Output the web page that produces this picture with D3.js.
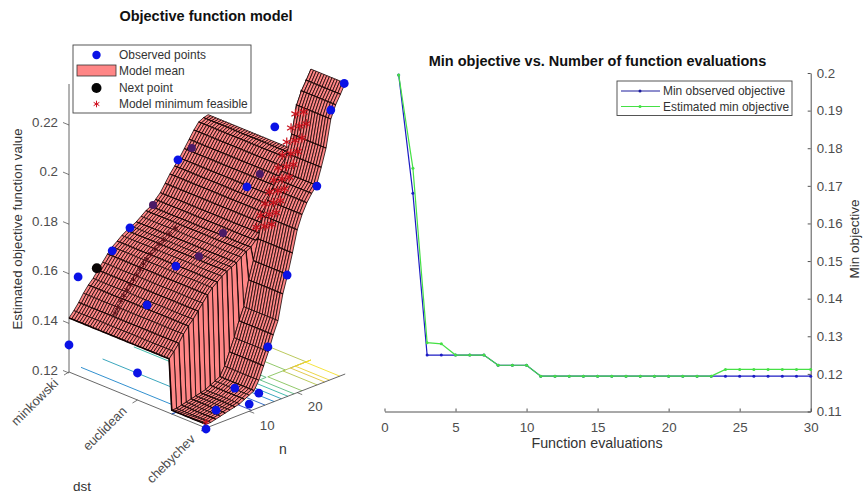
<!DOCTYPE html>
<html>
<head>
<meta charset="utf-8">
<script src="https://cdnjs.cloudflare.com/ajax/libs/d3/7.8.5/d3.min.js"></script>
<style>
  html, body { margin: 0; background: #fff; }
  text { font-family: "Liberation Sans", Arial, sans-serif; }
</style>
</head>
<body>
<div id="chart"></div>
<script>
// left panel: model surface, one height per n on each side of the dst step
const nGrid = d3.range(1, 31);
const dstNames = ['minkowski', 'euclidean', 'chebychev'];
const surfaceLeft = [.1422,.1444,.1469,.1499,.1524,.1544,.1569,.1594,.1619,.1641,.1656,.1672,.1684,.1694,.1704,.1719,.1734,.1744,.1764,.1784,.1814,.1844,.1869,.1894,.1924,.1954,.1984,.2009,.2019,.2024];
const surfaceRight = [.1219,.1219,.1224,.1229,.1234,.1239,.1244,.1249,.1259,.1269,.1279,.1314,.1364,.1414,.1474,.1524,.1624,.1694,.1774,.1860,.1914,.1954,.1984,.2009,.2074,.2144,.2254,.2304,.2339,.2377];
const dstStep = 2.5;
const contourLevels = [.1274,.1379,.1484,.1594,.1699,.1804,.1914,.2019,.2124,.2224,.2334];
const parula = ['#2b3fb5', '#1b83c9', '#2fb3a2', '#86c35a', '#e0c33a', '#f4e02a'];

const obsN = [29.8,27,29.6,23.7,23.8,24.1,13.7,10,2.9,9,3,17.9,1,1,13.9,7,12,10,3.1,1];
const obsDst = [3,3,2,1,2,3,1,1,1,2,2,3,1,2,3,3,3,3,3,3];
const obsZ = [.2377,.2291,.2091,.1889,.1892,.2006,.1690,.1625,.1573,.1684,.1572,.1694,.1313,.1313,.1434,.1320,.1262,.1233,.1260,.1200];
const hiddenN = [26.6,26.5,18.5,18.8,13.8];
const hiddenDst = [1,2,1,2,2];
const hiddenZ = [.1915,.1924,.1746,.1744,.1688];
const nextPoint = [6.8, 1, .1579];
const frontStar = [1, 3, .1228];
const ridgeStarN = [19.8,20.1,20.4,20.7,21,21.3,21.6,21.9,22.2,22.5,22.8,23.1,23.4,23.7,24,24.3,24.6,24.9,25.2,25.5,25.8,26.1,26.4,26.7,27,27.3,27.6,27.9,28.2];
const ridgeStarDst = [2.42,2.52,2.6,2.42,2.52,2.6,2.42,2.52,2.6,2.42,2.52,2.6,2.42,2.52,2.6,2.42,2.52,2.6,2.42,2.52,2.6,2.42,2.52,2.6,2.42,2.52,2.6,2.42,2.52];
const ridgeStarZ = [.1806,.182,.1834,.1848,.1861,.1875,.1888,.1902,.1916,.1929,.1943,.1957,.197,.1984,.1998,.2012,.2027,.2042,.2057,.2072,.2087,.2103,.2119,.2136,.2153,.217,.2186,.2203,.222];
const darkStarN = [3.45,4,4.7,5.3,5.95,6.6,7.3,8,8.7,9.4,10.1,10.9,11.8,12.6,13.5,14.7,16];
const darkStarZ = [.148,.1498,.152,.1537,.1554,.157,.1585,.16,.1617,.1633,.1648,.1662,.1675,.1688,.1699,.1714,.1728];

const zTicks = [.12,.14,.16,.18,.2,.22];
const nTicks = [10, 20];

// right panel
const evals = d3.range(1, 31);
const minObserved = [.1995,.168,.125,.125,.125,.125,.125,.1223,.1223,.1223,.1194,.1194,.1194,.1194,.1194,.1194,.1194,.1194,.1194,.1194,.1194,.1194,.1194,.1194,.1194,.1194,.1194,.1194,.1194,.1194];
const estimatedMin = [.1995,.1747,.1283,.128,.125,.125,.125,.1223,.1223,.1223,.1194,.1194,.1194,.1194,.1194,.1194,.1194,.1194,.1194,.1194,.1194,.1194,.1194,.1212,.1212,.1212,.1212,.1212,.1212,.1212];

const svg = d3.select('#chart').append('svg').attr('width', 863).attr('height', 494).style('display', 'block');
const axisGrey = '#404040', textGrey = '#4d4d4d';

// === left panel projection ===
const nX = d3.scaleLinear().domain([1, 30]).range([69, 208.2]);
const nY = d3.scaleLinear().domain([1, 30]).range([0, -54]);
const dX = d3.scaleLinear().domain([1, 3]).range([0, 137]);
const dY = d3.scaleLinear().domain([1, 3]).range([0, 56]);
const zY = d3.scaleLinear().domain([.12, .22]).range([373, 125]);
const floorZ = .1204;
const project = (n, dst, z) => [nX(n) + dX(dst), zY(z) + nY(n) + dY(dst)];

const left = svg.append('g');
const line = d3.line();

// floor contours
const crossing = (series, level) => {
    const i = series.findIndex(v => v >= level);
    if (i < 1) return i === 0 ? 1 : null;
    return nGrid[i - 1] + (level - series[i - 1]) / (series[i] - series[i - 1]);
};
const contourColor = d3.scaleLinear()
    .domain(d3.range(parula.length).map(i => d3.quantile(contourLevels, i / (parula.length - 1))))
    .range(parula);
contourLevels.forEach(level => {
    const nL = crossing(surfaceLeft, level);
    const nR = crossing(surfaceRight, level);
    const pts = [];
    if (nL !== null && level >= surfaceLeft[0]) pts.push([nL, 1], [nL, dstStep]);
    else pts.push([nL === null ? 30 : 1, dstStep]);
    pts.push([nR === null ? 30 : nR, dstStep]);
    if (nR !== null) pts.push([nR, 3]);
    left.append('path')
        .attr('d', line(pts.map(p => project(p[0], p[1], floorZ))))
        .attr('fill', 'none')
        .attr('stroke', contourColor(level))
        .attr('stroke-width', 0.9);
});

// floor edges and ticks
const floorEdge = [[1, 1], [1, 3], [30, 3]];
left.append('path')
    .attr('d', line(floorEdge.map(p => project(p[0], p[1], floorZ))))
    .attr('fill', 'none').attr('stroke', axisGrey).attr('stroke-width', 0.8);
left.append('line')
    .attr('x1', nX(1)).attr('x2', nX(1))
    .attr('y1', zY(floorZ)).attr('y2', 84)
    .attr('stroke', axisGrey).attr('stroke-width', 0.8);

zTicks.forEach(t => {
    const y = zY(t);
    left.append('line').attr('x1', 69).attr('y1', y).attr('x2', 63).attr('y2', y - 2.5)
        .attr('stroke', axisGrey).attr('stroke-width', 0.7);
    left.append('text').attr('x', 58).attr('y', y - 3).attr('dy', '0.35em')
        .attr('text-anchor', 'end').attr('font-size', 13.3).attr('fill', textGrey)
        .text(t === .2 ? '0.2' : t.toFixed(2));
});
nTicks.forEach(t => {
    const [x, y] = project(t, 3, floorZ);
    left.append('line').attr('x1', x).attr('y1', y).attr('x2', x + 5).attr('y2', y + 2)
        .attr('stroke', axisGrey).attr('stroke-width', 0.7);
    left.append('text').attr('x', x + 18).attr('y', y + 14).attr('dy', '0.35em')
        .attr('text-anchor', 'middle').attr('font-size', 13.3).attr('fill', textGrey).text(t);
});
dstNames.forEach((name, i) => {
    const [x, y] = project(1, i + 1, floorZ);
    left.append('line').attr('x1', x).attr('y1', y).attr('x2', x - 5).attr('y2', y + 3)
        .attr('stroke', axisGrey).attr('stroke-width', 0.7);
    left.append('text')
        .attr('transform', `translate(${x - 10},${y + 12}) rotate(-45)`)
        .attr('text-anchor', 'end').attr('font-size', 13).attr('fill', textGrey).text(name);
});

// surface, far rows first so nearer cells cover them
const stations = d3.range(0, 53).map(i => 1 + i * 2 / 52);
const heightAt = (rowIdx, dst) => dst < dstStep ? surfaceLeft[rowIdx] : surfaceRight[rowIdx];
const surface = left.append('g');
for (let r = nGrid.length - 2; r >= 0; r--) {
    for (let s = 0; s < stations.length - 1; s++) {
        const d0 = stations[s], d1 = stations[s + 1];
        const quad = [
            project(nGrid[r], d0, heightAt(r, d0)),
            project(nGrid[r + 1], d0, heightAt(r + 1, d0)),
            project(nGrid[r + 1], d1, heightAt(r + 1, d1)),
            project(nGrid[r], d1, heightAt(r, d1))
        ];
        surface.append('path')
            .attr('d', line(quad) + 'Z')
            .attr('fill', '#ff8686')
            .attr('stroke', '#140404')
            .attr('stroke-width', 0.8);
    }
    // heavier step lines: every second row low down, every row higher up
    if (nGrid[r] > 16 || r % 2 === 0) {
        surface.append('path')
            .attr('d', line(stations.map(d => project(nGrid[r], d, heightAt(r, d)))))
            .attr('fill', 'none')
            .attr('stroke', '#140303')
            .attr('stroke-width', 1.6);
    }
}

// markers
const asterisk = d3.symbol().type(d3.symbolAsterisk || d3.symbolCross);
const markers = left.append('g');
darkStarN.forEach((n, i) => {
    const [x, y] = project(n, 1.5, darkStarZ[i]);
    markers.append('path').attr('d', asterisk.size(30)()).attr('transform', `translate(${x},${y})`)
        .attr('fill', 'none').attr('stroke', '#5a1018').attr('stroke-width', 1);
});
ridgeStarN.forEach((n, i) => {
    const [x, y] = project(n, ridgeStarDst[i], ridgeStarZ[i]);
    markers.append('path').attr('d', asterisk.size(60)()).attr('transform', `translate(${x},${y})`)
        .attr('fill', 'none').attr('stroke', '#c8141e').attr('stroke-width', 1.2);
});
hiddenN.forEach((n, i) => {
    const [x, y] = project(n, hiddenDst[i], hiddenZ[i]);
    markers.append('circle').attr('cx', x).attr('cy', y).attr('r', 4)
        .attr('fill', '#4b1a66');
});
obsN.forEach((n, i) => {
    const [x, y] = project(n, obsDst[i], obsZ[i]);
    markers.append('circle').attr('cx', x).attr('cy', y).attr('r', 4.4)
        .attr('fill', '#0a12e6');
});
{
    const [x, y] = project(...nextPoint);
    markers.append('circle').attr('cx', x).attr('cy', y).attr('r', 5).attr('fill', '#0a0505');
    const [sx, sy] = project(...frontStar);
    markers.append('path').attr('d', asterisk.size(30)()).attr('transform', `translate(${sx},${sy})`)
        .attr('fill', 'none').attr('stroke', '#d01020').attr('stroke-width', 1);
}

// left titles
svg.append('text').attr('x', 206).attr('y', 21).attr('text-anchor', 'middle')
    .attr('font-size', 14.5).attr('font-weight', 'bold').attr('fill', '#111').text('Objective function model');
svg.append('text').attr('transform', 'translate(22,229) rotate(-90)').attr('text-anchor', 'middle')
    .attr('font-size', 13.3).attr('fill', '#333').text('Estimated objective function value');
svg.append('text').attr('x', 283).attr('y', 454).attr('text-anchor', 'middle')
    .attr('font-size', 14).attr('fill', '#333').text('n');
svg.append('text').attr('x', 82).attr('y', 491).attr('text-anchor', 'middle')
    .attr('font-size', 13.5).attr('fill', '#333').text('dst');

// left legend
const leg = svg.append('g');
leg.append('rect').attr('x', 73).attr('y', 45).attr('width', 178).attr('height', 68)
    .attr('fill', '#fff').attr('stroke', '#444').attr('stroke-width', 0.9);
const legendRows = ['Observed points', 'Model mean', 'Next point', 'Model minimum feasible'];
legendRows.forEach((t, i) => {
    leg.append('text').attr('x', 119).attr('y', 55 + i * 16.3).attr('dy', '0.35em')
        .attr('font-size', 11.95).attr('fill', '#333').text(t);
});
leg.append('circle').attr('cx', 96.5).attr('cy', 55).attr('r', 4.2).attr('fill', '#0a12e6');
leg.append('rect').attr('x', 77).attr('y', 65).attr('width', 39).attr('height', 11)
    .attr('fill', '#ff8686').attr('stroke', '#333').attr('stroke-width', 0.8);
leg.append('circle').attr('cx', 96.5).attr('cy', 88).attr('r', 5).attr('fill', '#050505');
leg.append('path').attr('d', asterisk.size(30)()).attr('transform', 'translate(96.5,104)')
    .attr('fill', 'none').attr('stroke', '#d01020').attr('stroke-width', 1);

// === right panel ===
const x = d3.scaleLinear().domain([0, 30]).range([384.5, 810.7]);
const y = d3.scaleLinear().domain([.11, .2]).range([411.5, 73]);
const right = svg.append('g');

const xAxis = right.append('g').attr('transform', 'translate(0,411.5)')
    .call(d3.axisBottom(x).tickValues(d3.range(0, 31, 5)).tickSizeInner(-3).tickSizeOuter(0).tickPadding(11));
const yAxis = right.append('g').attr('transform', 'translate(810.7,0)')
    .call(d3.axisRight(y).tickValues(d3.range(.11, .2001, .01)).tickFormat(d => d3.format('.2~f')(d)).tickSizeInner(-3).tickSizeOuter(0).tickPadding(6));
[xAxis, yAxis].forEach(a => {
    a.selectAll('text').attr('font-family', null).attr('font-size', 13.3).attr('fill', textGrey);
    a.selectAll('line,path').attr('stroke', axisGrey).attr('stroke-width', 0.9);
});

const traceLine = d3.line().x((d, i) => x(evals[i])).y(d => y(d));
[[minObserved, '#1c1cc4'], [estimatedMin, '#45e045']].forEach(([series, color]) => {
    right.append('path').attr('d', traceLine(series)).attr('fill', 'none')
        .attr('stroke', color).attr('stroke-width', 1.2);
    right.selectAll(null).data(series).enter().append('circle')
        .attr('cx', (d, i) => x(evals[i])).attr('cy', d => y(d)).attr('r', 1.5).attr('fill', color);
});

right.append('text').attr('x', 597.5).attr('y', 66).attr('text-anchor', 'middle')
    .attr('font-size', 14.5).attr('font-weight', 'bold').attr('fill', '#111')
    .text('Min objective vs. Number of function evaluations');
right.append('text').attr('x', 597).attr('y', 448).attr('text-anchor', 'middle')
    .attr('font-size', 14.3).attr('fill', '#333').text('Function evaluations');
right.append('text').attr('transform', 'translate(859,239) rotate(-90)').attr('text-anchor', 'middle')
    .attr('font-size', 13.5).attr('fill', '#333').text('Min objective');

right.append('rect').attr('x', 617).attr('y', 81).attr('width', 175).attr('height', 34.5)
    .attr('fill', '#fff').attr('stroke', '#444').attr('stroke-width', 0.9);
[['Min observed objective', '#1c1c9c', 91], ['Estimated min objective', '#45e045', 106.5]].forEach(([t, color, ly]) => {
    right.append('line').attr('x1', 621).attr('x2', 660).attr('y1', ly).attr('y2', ly)
        .attr('stroke', color).attr('stroke-width', 1);
    right.append('circle').attr('cx', 640).attr('cy', ly).attr('r', 1.5).attr('fill', color);
    right.append('text').attr('x', 663).attr('y', ly).attr('dy', '0.35em')
        .attr('font-size', 11.95).attr('fill', '#333').text(t);
});
</script>
</body>
</html>
